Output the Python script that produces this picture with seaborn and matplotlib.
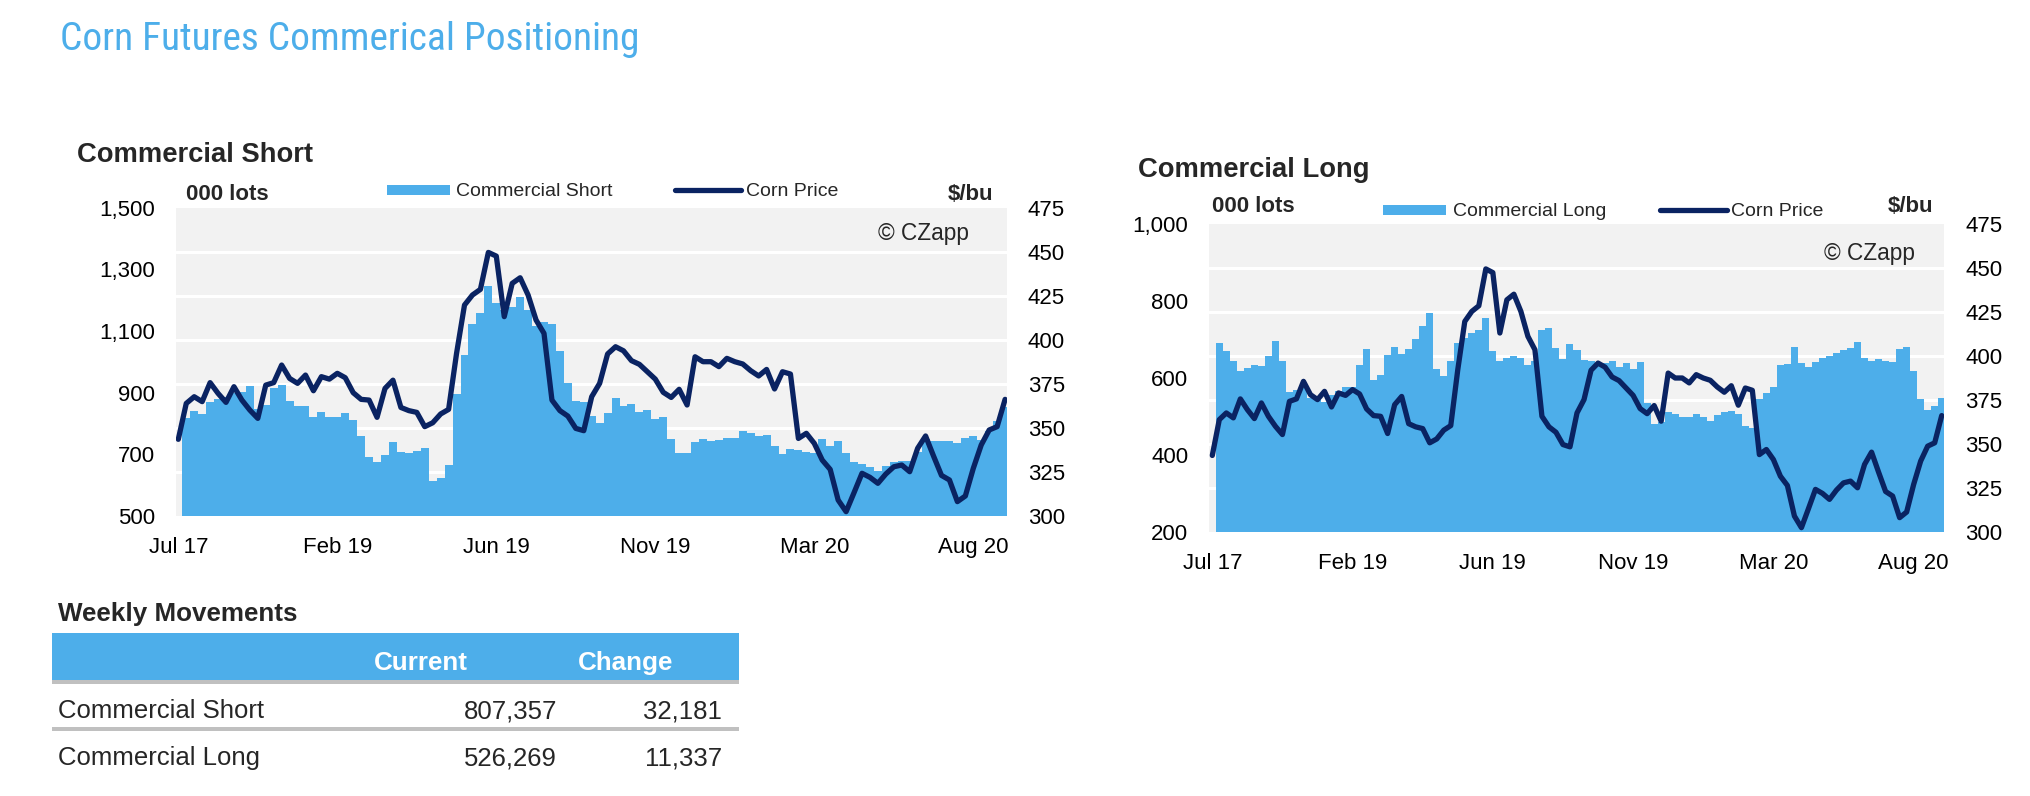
import numpy as np
import pandas as pd
import matplotlib
matplotlib.use("Agg")
import matplotlib.pyplot as plt
import seaborn as sns
from matplotlib import font_manager
from matplotlib.font_manager import FontProperties
from matplotlib.patches import Rectangle
from matplotlib.lines import Line2D
from matplotlib.ticker import FixedLocator, FuncFormatter

# ---------------- data ----------------
commercial_short = [np.nan, 816, 841, 830, 870, 879, 886, 899, 903, 922,
                    848, 859, 913, 924, 874, 856, 856, 821, 837, 819,
                    820, 832, 811, 759, 691, 674, 696, 738, 706, 702,
                    711, 721, 613, 621, 665, 895, 1022, 1124, 1157, 1246,
                    1189, 1168, 1179, 1209, 1168, 1116, 1128, 1122, 1036, 932,
                    872, 868, 824, 802, 832, 882, 857, 864, 837, 843,
                    813, 819, 749, 702, 705, 740, 748, 742, 745, 753,
                    752, 774, 767, 759, 761, 726, 700, 715, 714, 706,
                    705, 748, 727, 742, 702, 674, 668, 657, 646, 661,
                    674, 677, 679, 708, 748, 744, 742, 741, 737, 751,
                    759, 746, 776, 808, 852]

commercial_long = [np.nan, 692, 669, 644, 618, 625, 634, 631, 658, 695,
                   643, 563, 569, 573, 549, 543, 537, 556, 566, 577,
                   577, 634, 675, 595, 608, 660, 680, 662, 675, 702,
                   735, 770, 623, 605, 643, 692, 703, 716, 725, 757,
                   669, 644, 651, 658, 651, 634, 643, 725, 729, 679,
                   649, 688, 673, 647, 645, 640, 640, 644, 628, 640,
                   624, 642, 534, 480, 486, 511, 506, 498, 498, 506,
                   498, 489, 504, 511, 515, 506, 476, 469, 545, 560,
                   577, 634, 636, 681, 640, 628, 642, 651, 657, 664,
                   673, 679, 694, 651, 643, 649, 643, 641, 675, 681,
                   617, 545, 516, 526, 548]

corn_price = [343.4, 363.8, 367.6, 364.8, 375.6, 369.5, 364.4, 373.3, 365.7, 360.0,
              355.3, 374.2, 375.6, 385.6, 378.0, 375.2, 379.9, 371.0, 379.0, 377.6,
              380.9, 378.4, 369.9, 366.1, 365.7, 355.9, 372.3, 377.0, 361.5, 359.7,
              358.7, 350.6, 352.8, 357.8, 360.4, 392.2, 419.7, 425.4, 428.6, 449.6,
              447.5, 413.1, 432.0, 435.2, 425.4, 411.2, 403.6, 365.7, 359.7, 356.6,
              349.6, 348.3, 367.6, 375.2, 391.9, 396.0, 393.7, 388.1, 386.0, 381.8,
              377.6, 370.1, 367.2, 371.8, 362.9, 390.3, 387.5, 387.5, 384.7, 389.4,
              387.5, 386.2, 382.4, 379.4, 383.1, 372.0, 381.8, 380.5, 343.9, 346.8,
              341.1, 331.6, 326.3, 308.9, 302.3, 313.1, 324.1, 321.8, 318.4, 323.7,
              327.8, 328.8, 325.0, 338.3, 345.3, 333.9, 322.9, 320.3, 308.0, 311.2,
              326.9, 340.2, 348.7, 350.6, 366.1]

x_tick_pos = [0, 20, 40, 60, 80, 100]
x_tick_labels = ["Jul 17", "Feb 19", "Jun 19", "Nov 19", "Mar 20", "Aug 20"]
short_ticks = [500, 700, 900, 1100, 1300, 1500]
long_ticks = [200, 400, 600, 800, 1000]
price_ticks = [300, 325, 350, 375, 400, 425, 450, 475]

table_rows = ["Commercial Short", "Commercial Long"]
table_current = ["807,357", "526,269"]
table_change = ["32,181", "11,337"]

# ---------------- style ----------------
sns.set_style("white")
plt.rcParams["font.family"] = ["Liberation Sans", "DejaVu Sans"]

BLUE = "#4daeea"
NAVY = "#0a2362"
BG = "#f2f2f2"


def pick_condensed_font():
    prefs = ["Liberation Sans Narrow", "Arial Narrow", "Roboto Condensed",
             "Open Sans Condensed", "Noto Sans Condensed", "Noto Sans", "Open Sans",
             "Roboto", "DejaVu Sans Condensed", "DejaVu Sans"]
    found = {}
    for f in font_manager.fontManager.ttflist:
        nm = f.name
        st = f.stretch
        cond = ("Narrow" in nm) or ("Condensed" in nm)
        if isinstance(st, str):
            cond = cond or ("condensed" in st)
        elif isinstance(st, (int, float)):
            cond = cond or st < 500
        if not cond or f.style != "normal":
            continue
        try:
            w = int(f.weight)
        except (TypeError, ValueError):
            w = 400 if str(f.weight) in ("normal", "regular", "book") else 700
        if w not in (300, 400):
            continue
        score = abs(w - 400)
        if nm not in found or score < found[nm][0]:
            found[nm] = (score, f.fname)
    for p in prefs:
        if p in found:
            return found[p][1]
    for nm, (sc, fn) in found.items():
        return fn
    return None


W, H = 2030, 796
fig = plt.figure(figsize=(W / 100, H / 100), dpi=100)
fig.patch.set_facecolor("white")


def fx(x):
    return x / W


def fy(y):
    return 1 - y / H


df = pd.DataFrame({"wk": np.arange(len(corn_price)),
                   "short": commercial_short,
                   "long": commercial_long,
                   "price": corn_price})


def make_chart(rect, col, ymin, ymax, yticks, xlim):
    ax = fig.add_axes(rect)
    ax.set_facecolor(BG)
    sns.barplot(data=df, x="wk", y=col, ax=ax, color=BLUE, width=1.0,
                saturation=1, linewidth=0, edgecolor=BLUE, errorbar=None)
    ax.set_ylim(ymin, ymax)
    ax.set_yticks(yticks)
    ax.yaxis.set_major_formatter(FuncFormatter(lambda v, p: f"{int(v):,}"))
    grid_vals = [ymin + (p - price_ticks[0]) / (price_ticks[-1] - price_ticks[0]) * (ymax - ymin)
                 for p in price_ticks[1:-1]]
    ax.yaxis.set_minor_locator(FixedLocator(grid_vals))
    ax.grid(which="minor", axis="y", color="white", linewidth=2.2)
    ax.grid(which="major", visible=False)
    ax.set_axisbelow(True)
    ax.tick_params(which="both", length=0)
    ax.tick_params(axis="y", labelsize=16, pad=15, colors="black")
    ax.tick_params(axis="x", labelsize=16, pad=15, colors="black")
    for s in ax.spines.values():
        s.set_visible(False)
    ax.set_xlabel("")
    ax.set_ylabel("")

    axr = ax.twinx()
    sns.lineplot(data=df, x="wk", y="price", ax=axr, color=NAVY, linewidth=3.8,
                 solid_joinstyle="round", solid_capstyle="round")
    axr.set_ylim(price_ticks[0], price_ticks[-1])
    axr.set_yticks(price_ticks)
    axr.tick_params(which="both", length=0)
    axr.tick_params(axis="y", labelsize=16, pad=15, colors="black")
    for s in axr.spines.values():
        s.set_visible(False)
    axr.set_ylabel("")
    axr.set_xlabel("")
    ax.set_xticks(x_tick_pos)
    ax.set_xticklabels(x_tick_labels)
    ax.set_xlim(*xlim)
    return ax, axr


make_chart([fx(176), fy(515.7), 831 / W, 308 / H], "short", 500, 1500, short_ticks, (-0.29, 104.24))
make_chart([fx(1209), fy(531.7), 735.3 / W, 307.4 / H], "long", 200, 1000, long_ticks, (-0.47, 104.37))

# ---------------- title (condensed face, sized to the reference width) ----------------
cfont = pick_condensed_font()
if cfont is not None:
    tprops = FontProperties(fname=cfont, size=31)
else:
    tprops = FontProperties(family="Liberation Sans", size=31)
title = fig.text(fx(60), fy(50), "Corn Futures Commerical Positioning",
                 fontproperties=tprops, color=BLUE, va="baseline", ha="left")
renderer = fig.canvas.get_renderer()
tw = title.get_window_extent(renderer).width
target_w = 579.0
new_size = min(31.0, 31.0 * target_w / tw)
title.set_fontsize(new_size)


def chart_header(title_txt, tx, ty, lots_x, lots_y, patch_x0, patch_x1, leg_y, label,
                 line_x0, line_x1, price_x, bu_x, cz_x, cz_y):
    fig.text(fx(tx), fy(ty), title_txt, fontsize=19.7, weight="bold", va="baseline")
    fig.text(fx(lots_x), fy(lots_y), "000 lots", fontsize=16, weight="bold", va="baseline")
    fig.text(fx(bu_x), fy(lots_y), "$/bu", fontsize=16, weight="bold", va="baseline")
    fig.add_artist(Rectangle((fx(patch_x0), fy(leg_y + 5)), (patch_x1 - patch_x0) / W, 10 / H,
                             transform=fig.transFigure, color=BLUE, lw=0))
    fig.text(fx(patch_x1 + 7), fy(leg_y + 7), label, fontsize=14, va="baseline")
    fig.add_artist(Line2D([fx(line_x0), fx(line_x1)], [fy(leg_y), fy(leg_y)],
                          transform=fig.transFigure, color=NAVY, lw=3.8, solid_capstyle="round"))
    fig.text(fx(price_x), fy(leg_y + 7), "Corn Price", fontsize=14, va="baseline")
    fig.text(fx(cz_x), fy(cz_y), "\u00a9 CZapp", fontsize=16.3, va="baseline")


chart_header("Commercial Short", 77, 162.5, 186, 200, 387, 449.5, 189.5, "Commercial Short",
             675, 741, 746, 948, 878, 240)
chart_header("Commercial Long", 1138, 177.4, 1212.5, 212, 1383, 1445.6, 209.5, "Commercial Long",
             1660, 1727, 1731, 1888, 1824, 260)

# ---------------- table ----------------
fig.text(fx(58), fy(621), "Weekly Movements", fontsize=18.7, weight="bold", va="baseline")
fig.add_artist(Rectangle((fx(52), fy(680)), (739 - 52) / W, (680 - 633.3) / H,
                         transform=fig.transFigure, color=BLUE, lw=0))
fig.text(fx(421), fy(670), "Current", fontsize=18.7, weight="bold", color="white",
         ha="center", va="baseline")
fig.text(fx(626), fy(670), "Change", fontsize=18.7, weight="bold", color="white",
         ha="center", va="baseline")
for yy in (680, 727):
    fig.add_artist(Rectangle((fx(52), fy(yy + 3.5)), (739 - 52) / W, 3.5 / H,
                             transform=fig.transFigure, color="#c0c0c0", lw=0))
for k, base in enumerate((718, 765.5)):
    fig.text(fx(58), fy(base), table_rows[k], fontsize=18.5, va="baseline")
    fig.text(fx(557), fy(base), table_current[k], fontsize=18.5, va="baseline", ha="right")
    fig.text(fx(722), fy(base), table_change[k], fontsize=18.5, va="baseline", ha="right")

fig.savefig("out.png", dpi=100, facecolor="white")
